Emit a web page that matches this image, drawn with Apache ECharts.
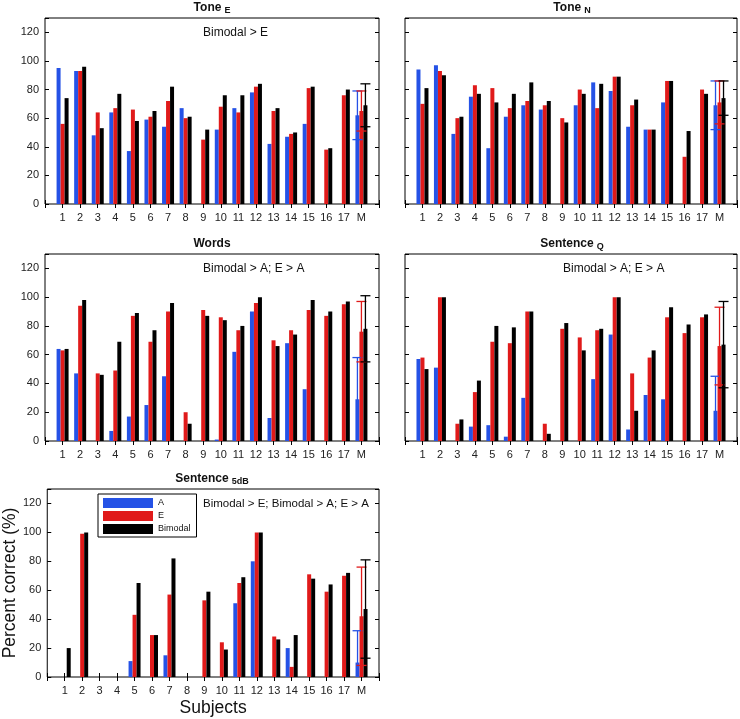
<!DOCTYPE html>
<html>
<head>
<meta charset="utf-8">
<script src="https://cdn.jsdelivr.net/npm/echarts@6/dist/echarts.min.js"></script>
<style>
  html, body { margin: 0; padding: 0; background: #fff; }
  #chart { width: 740px; height: 719px; }
</style>
</head>
<body>
<div id="chart"></div>
<script>
// subjects on the x axis, M = mean
const subjects = ['1', '2', '3', '4', '5', '6', '7', '8', '9', '10', '11', '12', '13', '14', '15', '16', '17', 'M']
const yTicks = [0, 20, 40, 60, 80, 100, 120]

// Tone E
const toneE_A = [95, 93, 48, 64, 37, 59, 54, 67, 0, 52, 67, 78, 42, 47, 56, 0, 0, 62]
const toneE_E = [56, 93, 64, 67, 66, 61, 72, 60, 45, 68, 64, 82, 65, 49, 81, 38, 76, 65]
const toneE_B = [74, 96, 53, 77, 58, 65, 82, 61, 52, 76, 76, 84, 67, 50, 82, 39, 80, 69]
const toneE_err = [17, 14, 15]

// Tone N
const toneN_A = [94, 97, 49, 75, 39, 61, 69, 66, 0, 69, 85, 79, 54, 52, 71, 0, 0, 69]
const toneN_E = [70, 93, 60, 83, 81, 67, 72, 69, 60, 80, 67, 89, 69, 52, 86, 33, 80, 71]
const toneN_B = [81, 90, 61, 77, 71, 77, 85, 72, 57, 77, 84, 89, 73, 52, 86, 51, 77, 74]
const toneN_err = [17, 15, 12]

// Words
const words_A = [64, 47, 0, 7, 17, 25, 45, 0, 0, 1, 62, 90, 16, 68, 36, 0, 0, 29]
const words_E = [63, 94, 47, 49, 87, 69, 90, 20, 91, 86, 77, 96, 70, 77, 91, 87, 95, 76]
const words_B = [64, 98, 46, 69, 89, 77, 96, 12, 87, 84, 80, 100, 66, 74, 98, 90, 97, 78]
const words_err = [29, 21, 23]

// Sentence Q
const sentQ_A = [57, 51, 0, 10, 11, 3, 30, 0, 0, 0, 43, 74, 8, 32, 29, 0, 0, 21]
const sentQ_E = [58, 100, 12, 34, 69, 68, 90, 12, 78, 72, 77, 100, 47, 58, 86, 75, 86, 66]
const sentQ_B = [50, 100, 15, 42, 80, 79, 90, 5, 82, 63, 78, 100, 21, 63, 93, 81, 88, 67]
const sentQ_err = [24, 27, 30]

// Sentence 5dB
const sent5_A = [0, 0, 0, 0, 11, 0, 15, 0, 0, 0, 51, 80, 0, 20, 0, 0, 0, 10]
const sent5_E = [0, 99, 0, 0, 43, 29, 57, 0, 53, 24, 65, 100, 28, 7, 71, 59, 70, 42]
const sent5_B = [20, 100, 0, 0, 65, 29, 82, 0, 59, 19, 69, 100, 26, 29, 68, 64, 72, 47]
const sent5_err = [22, 34, 34]

const seriesNames = ['A', 'E', 'Bimodal']
const colors = ['#2552e6', '#e01a1a', '#000000']

const panels = [
  { title: 'Tone', sub: 'E', note: 'Bimodal > E', data: [toneE_A, toneE_E, toneE_B], err: toneE_err, left: 45, top: 18, height: 186, labels: true },
  { title: 'Tone', sub: 'N', note: '', data: [toneN_A, toneN_E, toneN_B], err: toneN_err, left: 405, top: 18, height: 186, labels: false },
  { title: 'Words', sub: '', note: 'Bimodal > A; E > A', data: [words_A, words_E, words_B], err: words_err, left: 45, top: 254, height: 187, labels: true },
  { title: 'Sentence', sub: 'Q', note: 'Bimodal > A; E > A', data: [sentQ_A, sentQ_E, sentQ_B], err: sentQ_err, left: 405, top: 254, height: 187, labels: false },
  { title: 'Sentence', sub: '5dB', note: 'Bimodal > E; Bimodal > A; E > A', data: [sent5_A, sent5_E, sent5_B], err: sent5_err, left: 45, top: 489, height: 188, labels: true }
]

const panelW = 334
const barW = 4
const font = 'Liberation Sans, Arial, sans-serif'
// pad a blank slot at each end, so the subjects sit one step in from the frame
const cats = [''].concat(subjects, [''])
const pad = arr => [null].concat(arr, [null])

const grid = [], xAxis = [], yAxis = [], series = [], title = []

panels.forEach(function (p, i) {
  grid.push({ left: p.left, top: p.top, width: panelW, height: p.height, show: true, borderColor: '#000', borderWidth: 1, containLabel: false })

  const tick = { show: true, inside: true, length: 4, lineStyle: { color: '#000' } }
  xAxis.push({
    gridIndex: i, type: 'category', data: cats, boundaryGap: false,
    axisLine: { show: false }, axisTick: Object.assign({ interval: 0 }, tick),
    axisLabel: { interval: 0, fontSize: 11, color: '#222', margin: 8, fontFamily: font },
    name: i === 4 ? 'Subjects' : '', nameLocation: 'middle', nameGap: 22,
    nameTextStyle: { fontSize: 17.5, color: '#111', fontFamily: font }
  })
  xAxis.push({
    gridIndex: i, type: 'category', data: cats, boundaryGap: false, position: 'top',
    axisLine: { show: false }, axisTick: Object.assign({ interval: 0 }, tick), axisLabel: { show: false }
  })
  yAxis.push({
    gridIndex: i, type: 'value', min: 0, max: 130, interval: 20,
    axisLine: { show: false }, axisTick: tick, splitLine: { show: false },
    axisLabel: { show: p.labels, fontSize: 11, color: '#222', margin: 6, fontFamily: font,
      formatter: v => yTicks.indexOf(v) >= 0 ? String(v) : '' },
    name: i === 4 ? 'Percent correct (%)' : '', nameLocation: 'middle', nameGap: 26,
    nameTextStyle: { fontSize: 17.5, color: '#111', fontFamily: font }
  })
  yAxis.push({
    gridIndex: i, type: 'value', min: 0, max: 130, interval: 20, position: 'right',
    axisLine: { show: false }, axisTick: tick, splitLine: { show: false }, axisLabel: { show: false }
  })

  p.data.forEach(function (vals, k) {
    series.push({
      type: 'bar', name: seriesNames[k], xAxisIndex: 2 * i, yAxisIndex: 2 * i,
      data: pad(vals), barWidth: barW, barGap: '0%',
      itemStyle: { color: colors[k] }, silent: true
    })
  })

  // error bars on the mean (last subject slot)
  const mIdx = subjects.length
  series.push({
    type: 'custom', xAxisIndex: 2 * i, yAxisIndex: 2 * i, z: 5, silent: true,
    data: p.data.map((vals, k) => [mIdx, vals[mIdx - 1], p.err[k], k]),
    renderItem: function (params, api) {
      const x = api.value(0), m = api.value(1), e = api.value(2), k = api.value(3)
      const hi = api.coord([x, m + e])
      const lo = api.coord([x, Math.max(0, m - e)])
      const cx = hi[0] + (k - 1) * barW
      const style = { stroke: colors[k], lineWidth: 1.3 }
      const kids = [
        { type: 'line', shape: { x1: cx, y1: hi[1], x2: cx, y2: lo[1] }, style: style },
        { type: 'line', shape: { x1: cx - 5, y1: hi[1], x2: cx + 5, y2: hi[1] }, style: style }
      ]
      if (m - e > 0) kids.push({ type: 'line', shape: { x1: cx - 5, y1: lo[1], x2: cx + 5, y2: lo[1] }, style: style })
      return { type: 'group', children: kids }
    }
  })

  title.push({
    text: p.sub ? '{m|' + p.title + '}{s|' + p.sub + '}' : '{m|' + p.title + '}',
    left: p.left + panelW / 2, top: p.top - 16, textAlign: 'center', padding: 0,
    textStyle: {
      rich: {
        m: { fontSize: 12, fontWeight: 'bold', color: '#111', fontFamily: font, lineHeight: 13, verticalAlign: 'top' },
        s: { fontSize: 9, fontWeight: 'bold', color: '#111', fontFamily: font, lineHeight: 10, verticalAlign: 'bottom', padding: [6, 0, 0, 3] }
      }
    }
  })
  if (p.note) {
    title.push({
      text: p.note, left: p.left + 158, top: p.top + 9, padding: 0,
      textStyle: { fontSize: i === 4 ? 11.5 : 12, fontWeight: 'normal', color: '#111', fontFamily: font }
    })
  }
})

const option = {
  animation: false,
  backgroundColor: '#fff',
  title: title,
  legend: {
    data: seriesNames, orient: 'vertical', left: 98, top: 494,
    itemWidth: 50, itemHeight: 10, itemGap: 3, icon: 'rect',
    borderColor: '#000', borderWidth: 1, padding: [4, 6, 3, 5], backgroundColor: '#fff',
    textStyle: { fontSize: 9, color: '#111', fontFamily: font }, selectedMode: false
  },
  grid: grid,
  xAxis: xAxis,
  yAxis: yAxis,
  series: series
}

const myChart = echarts.init(document.getElementById('chart'))
myChart.setOption(option)
</script>
</body>
</html>
